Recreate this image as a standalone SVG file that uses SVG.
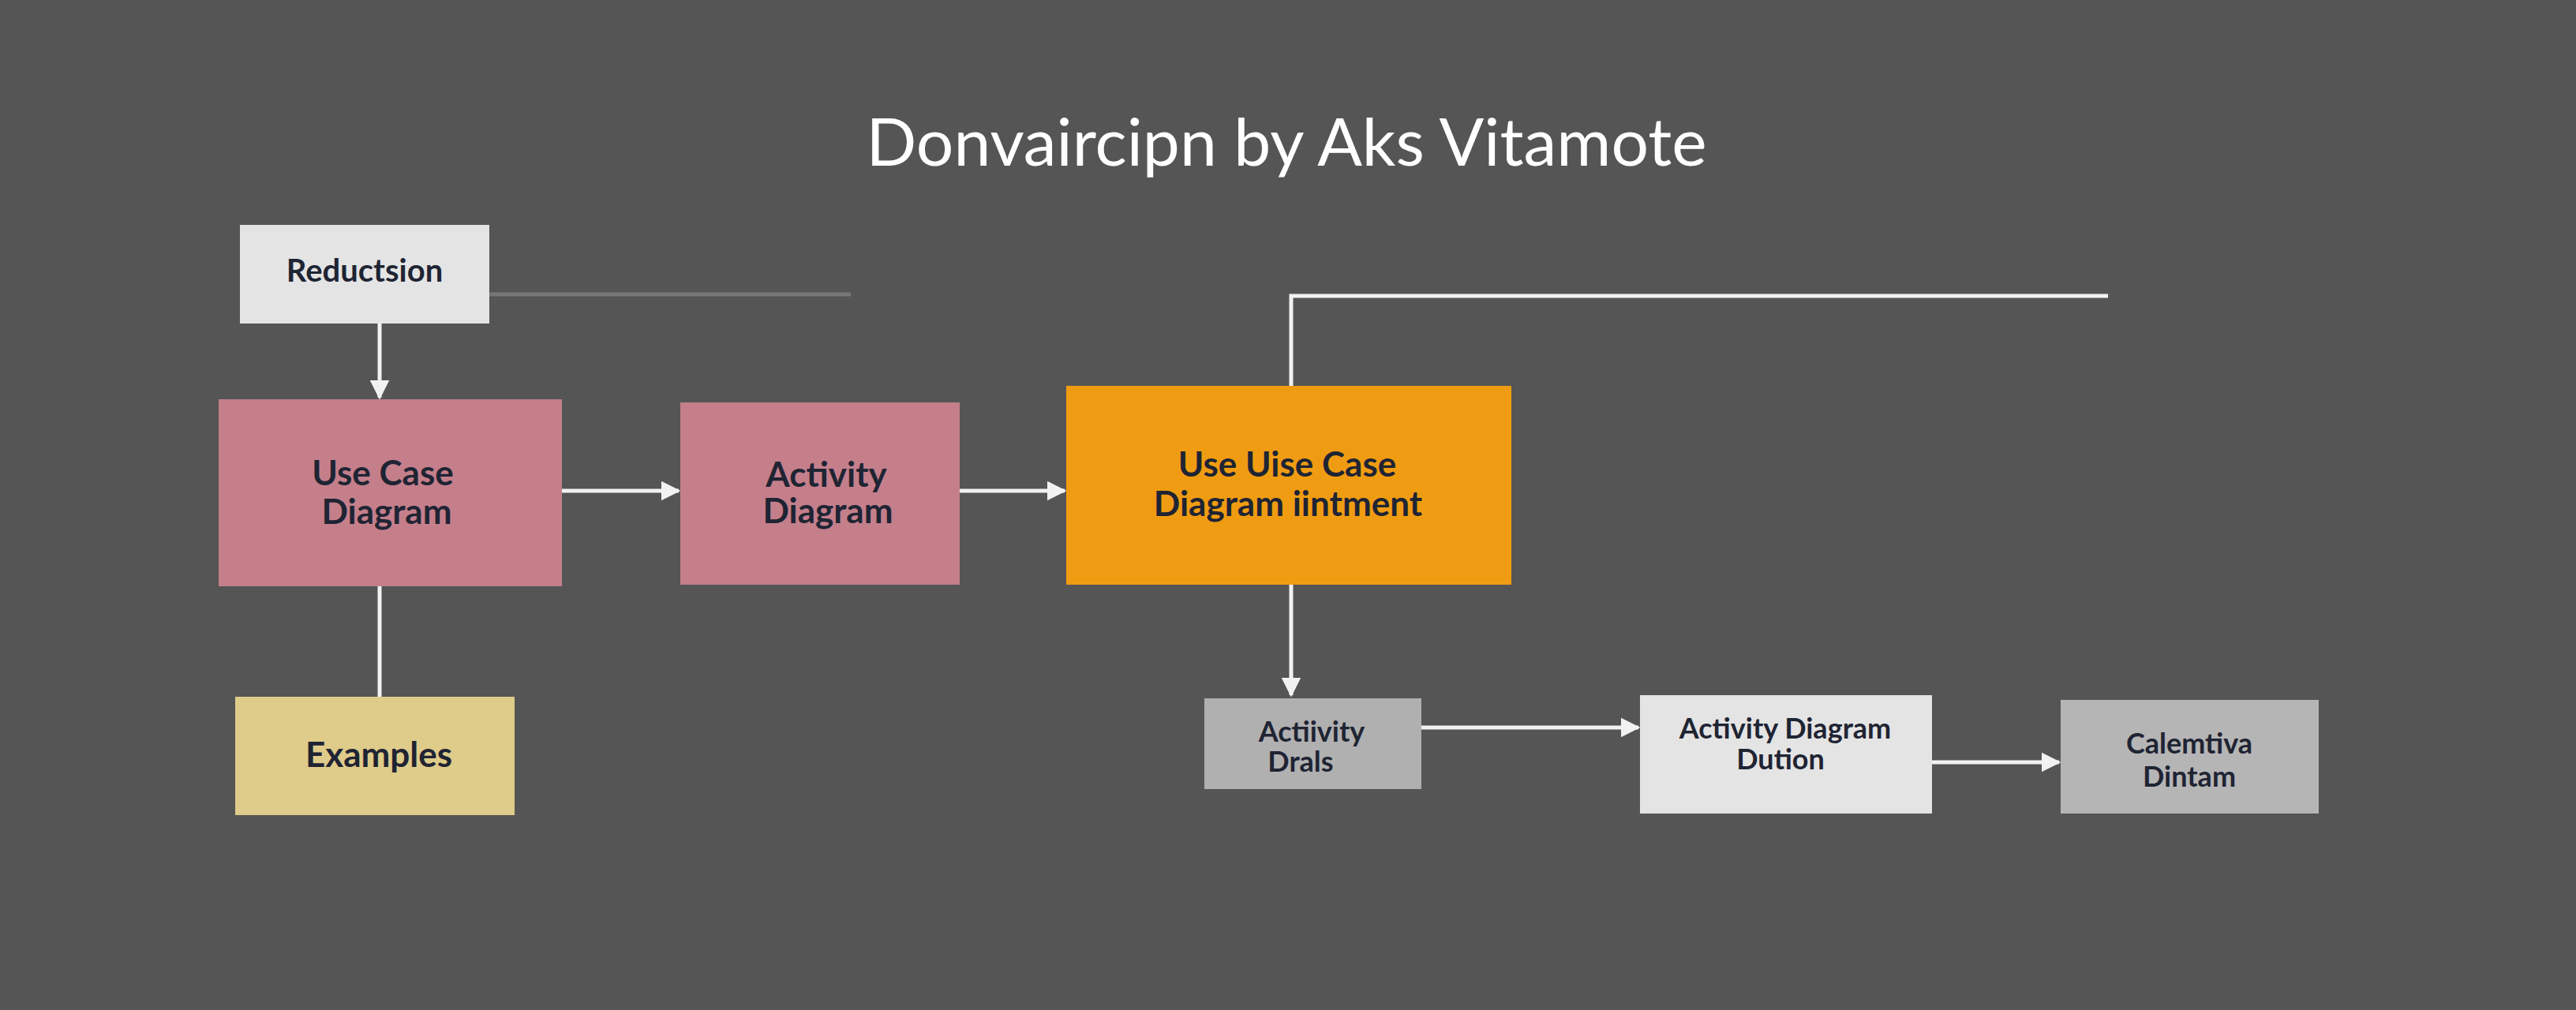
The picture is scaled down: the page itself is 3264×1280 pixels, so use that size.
<svg xmlns="http://www.w3.org/2000/svg" width="3264" height="1280" viewBox="0 0 3264 1280">
<style>
.t{font-family:Lato,"Open Sans","Liberation Sans",sans-serif;font-weight:bold;fill:#1f2433;text-anchor:middle}
.c{stroke:#f2f2f2;stroke-width:5;fill:none}
</style>
<defs><marker id="a" viewBox="0 0 10 10" refX="9" refY="5" markerWidth="5" markerHeight="5" orient="auto"><path d="M0 0L10 5L0 10z" fill="#f2f2f2"/></marker></defs>
<rect width="3264" height="1280" fill="#555555"/>
<text x="1630" y="210" font-family="Lato,'Open Sans','Liberation Sans',sans-serif" font-size="84" fill="#ffffff" text-anchor="middle">Donvaircipn by Aks Vitamote</text>
<g id="connectors">
<path d="M620 373H1078" stroke="#777" stroke-width="5"/>
<path class="c" d="M481 410V504" marker-end="url(#a)"/>
<path class="c" d="M712 622H860" marker-end="url(#a)"/>
<path class="c" d="M1216 622H1349" marker-end="url(#a)"/>
<path class="c" d="M1636 489V375H2671"/>
<path class="c" d="M481 743V883"/>
<path class="c" d="M1636 741V881" marker-end="url(#a)"/>
<path class="c" d="M1801 922H2076" marker-end="url(#a)"/>
<path class="c" d="M2448 966H2609" marker-end="url(#a)"/>
</g>
<g id="reductsion"><rect x="304" y="285" width="316" height="125" fill="#e4e4e4"/><text class="t" x="462" y="357" font-size="40">Reductsion</text></g>
<g id="usecase"><rect x="277" y="506" width="435" height="237" fill="#c47f8b"/><text class="t" x="485" y="615" font-size="44">Use Case</text><text class="t" x="490" y="664" font-size="44">Diagram</text></g>
<g id="activity"><rect x="862" y="510" width="354" height="231" fill="#c47f8b"/><text class="t" x="1047" y="617" font-size="44">Activity</text><text class="t" x="1049" y="663" font-size="44">Diagram</text></g>
<g id="orange"><rect x="1351" y="489" width="564" height="252" fill="#f09c12"/><text class="t" x="1631" y="604" font-size="44">Use Uise Case</text><text class="t" x="1632" y="654" font-size="44">Diagram iintment</text></g>
<g id="examples"><rect x="298" y="883" width="354" height="150" fill="#dfcb8a"/><text class="t" x="480" y="972" font-size="44">Examples</text></g>
<g id="drals"><rect x="1526" y="885" width="275" height="115" fill="#b0b0b0"/><text class="t" x="1662" y="940" font-size="36">Actiivity</text><text class="t" x="1648" y="978" font-size="36">Drals</text></g>
<g id="dution"><rect x="2078" y="881" width="370" height="150" fill="#e4e4e4"/><text class="t" x="2262" y="936" font-size="36">Activity Diagram</text><text class="t" x="2256" y="975" font-size="36">Dution</text></g>
<g id="calemtiva"><rect x="2611" y="887" width="327" height="144" fill="#b5b5b5"/><text class="t" x="2774" y="955" font-size="36">Calemtiva</text><text class="t" x="2774" y="997" font-size="36">Dintam</text></g>
</svg>
